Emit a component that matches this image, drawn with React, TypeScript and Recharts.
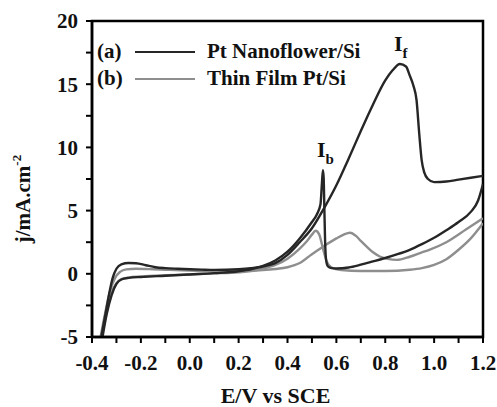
import { LineChart, Line, XAxis, YAxis, ReferenceArea, ReferenceDot, Label } from 'recharts'

// Pt Nanoflower/Si (a) — forward scan
const aFwdE = [-0.362, -0.345, -0.33, -0.315, -0.3, -0.28, -0.25, -0.22, -0.18, -0.14, -0.1, -0.05, 0, 0.05, 0.1, 0.15, 0.2, 0.25, 0.3, 0.35, 0.4, 0.45, 0.5, 0.55, 0.6, 0.65, 0.7, 0.75, 0.8, 0.83, 0.86, 0.885, 0.9, 0.915, 0.928, 0.939, 0.949, 0.96, 0.975, 1.0, 1.05, 1.1, 1.15, 1.2]
const aFwdJ = [-5, -3.2, -1.6, -0.3, 0.4, 0.75, 0.86, 0.84, 0.68, 0.52, 0.45, 0.4, 0.36, 0.33, 0.31, 0.32, 0.36, 0.44, 0.58, 0.85, 1.5, 2.5, 3.6, 5.2, 7.0, 9.1, 11.3, 13.4, 15.3, 16.1, 16.6, 16.4, 15.7, 14.9, 13.75, 11.1, 9.0, 8.0, 7.5, 7.25, 7.3, 7.45, 7.6, 7.75]
// (a) — reverse scan, with the I_b spike
const aRevE = [-0.357, -0.34, -0.32, -0.3, -0.28, -0.25, -0.2, -0.1, 0, 0.1, 0.2, 0.25, 0.3, 0.35, 0.4, 0.45, 0.5, 0.52, 0.535, 0.541, 0.545, 0.548, 0.551, 0.554, 0.558, 0.565, 0.58, 0.6, 0.65, 0.7, 0.75, 0.8, 0.85, 0.9, 0.95, 1.0, 1.05, 1.1, 1.15, 1.18, 1.2]
const aRevJ = [-5, -3.2, -1.7, -0.8, -0.45, -0.32, -0.25, -0.15, -0.05, 0.05, 0.2, 0.35, 0.62, 1.05, 1.75, 2.8, 4.1, 4.7, 5.5, 7.2, 8.2, 7.6, 5.0, 2.5, 1.1, 0.6, 0.45, 0.42, 0.5, 0.72, 0.98, 1.25, 1.55, 1.9, 2.35, 2.85, 3.45, 4.1, 4.9, 5.8, 7.1]

// Thin Film Pt/Si (b)
const bFwdE = [-0.365, -0.345, -0.325, -0.305, -0.285, -0.26, -0.22, -0.15, -0.1, 0, 0.1, 0.2, 0.3, 0.35, 0.4, 0.45, 0.5, 0.55, 0.6, 0.63, 0.656, 0.68, 0.7, 0.724, 0.75, 0.78, 0.81, 0.847, 0.9, 0.95, 0.98, 1.05, 1.13, 1.2]
const bFwdJ = [-5, -3.0, -1.3, -0.3, 0.15, 0.35, 0.4, 0.36, 0.32, 0.25, 0.22, 0.24, 0.3, 0.38, 0.52, 0.85, 1.55, 2.2, 2.8, 3.1, 3.25, 3.0, 2.6, 2.15, 1.7, 1.35, 1.18, 1.1, 1.35, 1.7, 1.9, 2.5, 3.5, 4.4]
const bRevE = [-0.36, -0.34, -0.32, -0.3, -0.28, -0.25, -0.2, -0.1, 0, 0.1, 0.2, 0.3, 0.35, 0.4, 0.45, 0.48, 0.5, 0.515, 0.53, 0.545, 0.56, 0.58, 0.62, 0.7, 0.8, 0.9, 0.95, 1.0, 1.05, 1.1, 1.15, 1.2]
const bRevJ = [-5, -3.0, -1.5, -0.75, -0.42, -0.3, -0.22, -0.12, -0.05, 0.03, 0.12, 0.4, 0.7, 1.2, 2.0, 2.6, 3.1, 3.4, 3.1, 2.0, 1.0, 0.5, 0.3, 0.22, 0.22, 0.32, 0.45, 0.7, 1.15, 1.9, 2.8, 4.0]

const seriesTags = ['(a)', '(b)']
const seriesNames = ['Pt Nanoflower/Si', 'Thin Film Pt/Si']
const seriesColors = ['#262626', '#8e8e8e']

const xTicks = [-0.4, -0.3, -0.2, -0.1, 0, 0.1, 0.2, 0.3, 0.4, 0.5, 0.6, 0.7, 0.8, 0.9, 1.0, 1.1, 1.2]
const yTicks = [-5, -2.5, 0, 2.5, 5, 7.5, 10, 12.5, 15, 17.5, 20]

// peak annotations
const peakE = [0.84, 0.525]
const peakJ = [17.55, 9.16]
const peakSub = ['f', 'b']

const font = '"Liberation Serif", "Times New Roman", serif'

const toPoints = (E: number[], J: number[]) => E.map((e, i) => ({ E: e, j: J[i] }))

const curves = [
  { key: 'bf', data: toPoints(bFwdE, bFwdJ), color: seriesColors[1] },
  { key: 'br', data: toPoints(bRevE, bRevJ), color: seriesColors[1] },
  { key: 'af', data: toPoints(aFwdE, aFwdJ), color: seriesColors[0] },
  { key: 'ar', data: toPoints(aRevE, aRevJ), color: seriesColors[0] },
]

const tickStyle = { fill: '#111', fontSize: 21, fontWeight: 700, fontFamily: font }

export default function App() {
  return (
    <div style={{ position: 'absolute', left: 0, top: 0, width: 497, height: 407, background: '#fff' }}>
      <LineChart width={497} height={407} margin={{ top: 21, right: 14, left: 0, bottom: 0 }}>
        <XAxis
          type="number"
          dataKey="E"
          domain={[-0.4, 1.2]}
          ticks={xTicks}
          allowDataOverflow
          height={70}
          tick={tickStyle}
          tickFormatter={(v: number) => (Math.round(v * 10) % 2 === 0 ? v.toFixed(1) : '')}
          tickSize={6}
          tickMargin={12}
          tickLine={{ stroke: '#000', strokeWidth: 2 }}
          axisLine={{ stroke: '#000', strokeWidth: 2.5 }}
        >
          <Label
            content={({ viewBox }: any) => (
              <text
                x={viewBox.x + viewBox.width / 2 - 12}
                y={viewBox.y + 66}
                textAnchor="middle"
                style={{ fontFamily: font, fontWeight: 700, fontSize: 22, fill: '#111' }}
              >
                E/V vs SCE
              </text>
            )}
          />
        </XAxis>
        <YAxis
          type="number"
          dataKey="j"
          domain={[-5, 20]}
          ticks={yTicks}
          allowDataOverflow
          width={92}
          tick={tickStyle}
          tickFormatter={(v: number) => (v % 5 === 0 ? String(v) : '')}
          tickSize={6}
          tickMargin={8}
          tickLine={{ stroke: '#000', strokeWidth: 2 }}
          axisLine={{ stroke: '#000', strokeWidth: 2.5 }}
        >
          <Label
            content={({ viewBox }: any) => {
              const cx = 30
              const cy = viewBox.y + viewBox.height / 2 + 20
              return (
                <text
                  x={cx}
                  y={cy}
                  transform={`rotate(-90 ${cx} ${cy})`}
                  textAnchor="middle"
                  style={{ fontFamily: font, fontWeight: 700, fontSize: 21, fill: '#111' }}
                >
                  j/mA.cm
                  <tspan dy={-9} fontSize={13}>-2</tspan>
                </text>
              )
            }}
          />
        </YAxis>
        <ReferenceArea
          x1={-0.4}
          x2={1.2}
          y1={-5}
          y2={20}
          fill="none"
          stroke="#000"
          strokeWidth={2.5}
          ifOverflow="visible"
        />
        {curves.map((c) => (
          <Line
            key={c.key}
            data={c.data}
            dataKey="j"
            type="monotone"
            stroke={c.color}
            strokeWidth={2.4}
            dot={false}
            activeDot={false}
            isAnimationActive={false}
          />
        ))}
        {peakE.map((e, i) => (
          <ReferenceDot
            key={peakSub[i]}
            x={e}
            y={peakJ[i]}
            r={1}
            fill="none"
            stroke="none"
            label={{
              content: ({ viewBox }: any) => (
                <text
                  x={viewBox.x}
                  y={viewBox.y}
                  style={{ fontFamily: font, fontWeight: 700, fontSize: 22, fill: '#111' }}
                >
                  I
                  <tspan dy={7} fontSize={15}>{peakSub[i]}</tspan>
                </text>
              ),
            }}
          />
        ))}
      </LineChart>
      <div style={{ position: 'absolute', left: 97, top: 38, fontFamily: font, fontWeight: 700, fontSize: 21, color: '#111' }}>
        {seriesNames.map((name, i) => (
          <div key={name} style={{ display: 'flex', alignItems: 'center', height: 27, whiteSpace: 'nowrap' }}>
            <span style={{ width: 30 }}>{seriesTags[i]}</span>
            <span style={{ width: 60, height: 0, borderTop: `2px solid ${seriesColors[i]}`, marginLeft: 8, marginRight: 12 }} />
            <span>{name}</span>
          </div>
        ))}
      </div>
    </div>
  )
}
